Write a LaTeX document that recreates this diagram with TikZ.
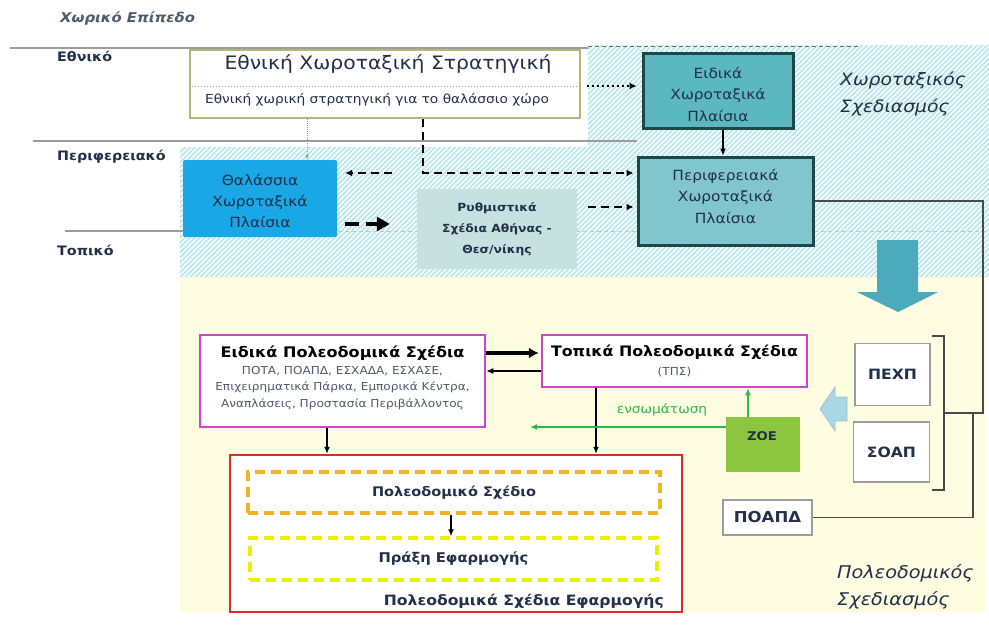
\documentclass[tikz,border=0pt]{standalone}
\usepackage{fontspec}
\setmainfont{DejaVu Sans}[FakeStretch=1.1]
\usetikzlibrary{arrows.meta,calc}
\definecolor{hatchbg}{HTML}{A8E0E8}
\definecolor{cream}{HTML}{FFFDE1}
\definecolor{navy}{HTML}{22304A}
\definecolor{lvlgray}{HTML}{9C9C9C}
\definecolor{thalblue}{HTML}{1AA7E5}
\definecolor{eidfill}{HTML}{5BB8C1}
\definecolor{perfill}{HTML}{80C6CC}
\definecolor{darkteal}{HTML}{1F4649}
\definecolor{rythfill}{HTML}{C7E0E0}
\definecolor{olive}{HTML}{B3B77A}
\definecolor{magenta}{HTML}{D042D0}
\definecolor{redbox}{HTML}{E02A2A}
\definecolor{orangedash}{HTML}{F2B422}
\definecolor{yellowdash}{HTML}{EEEE00}
\definecolor{zoegreen}{HTML}{8CC63E}
\definecolor{arrgreen}{HTML}{2EB84B}
\definecolor{bigarrow}{HTML}{4BAABB}
\definecolor{smallarrow}{HTML}{A9D7E6}
\definecolor{bracketgray}{HTML}{4A4A4A}
\newcommand\fsz[2]{\fontsize{#1}{#2}\selectfont}
\tikzset{
  lvl/.style={draw=lvlgray, line width=1.2pt},
  lvllabel/.style={font=\fsz{13}{15}\bfseries, text=navy, anchor=west, inner sep=0pt},
  boxtxt/.style={font=\fsz{14}{21.5}, text=navy, align=center, inner sep=0pt},
  tealbox/.style={draw=darkteal, line width=3pt, inner sep=0pt},
  plainbox/.style={inner sep=0pt},
  magbox/.style={draw=magenta, line width=2.5pt, fill=white, inner sep=0pt},
  greybox/.style={draw=lvlgray, line width=1.2pt, fill=white, inner sep=0pt, font=\fsz{14.2}{16}\bfseries, text=navy},
  thickdash/.style={line width=2.5pt, dash pattern=on 8pt off 5pt, -{Latex[length=7pt,width=7pt]}},
  blk/.style={line width=1.3pt, -{Latex[length=7pt,width=6pt]}},
  bigtxt/.style={font=\fsz{17}{27}\itshape, text=navy, align=left, inner sep=0pt, anchor=west},
  hatchline/.style={draw=white!80!hatchbg, line width=2.3pt},
}
\begin{document}
\begin{tikzpicture}[x=1pt,y=-1pt]
\useasboundingbox (0,0) rectangle (989,625);
\fill[white] (0,0) rectangle (989,625);
% background regions
\path[fill=cream] (180,277) rectangle (985,612);
\path[fill=hatchbg] (588,45) -- (989,45) -- (989,277) -- (180,277) -- (180,147) -- (588,147) -- cycle;
\begin{scope}
\clip (588,45) -- (989,45) -- (989,277) -- (180,277) -- (180,147) -- (588,147) -- cycle;
\foreach \c in {315,320,...,1280} { \draw[hatchline] (\c-300,300) -- (\c,0); }
\end{scope}
% level lines
\draw[lvl] (10,48) -- (588,48);
\draw[draw=navy!70, line width=1pt, dash pattern=on 4pt off 3pt] (588,46) -- (860,46);
\draw[lvl] (33,141) -- (637,141);
\draw[lvl] (65,231) -- (183,231);
\draw[draw=lvlgray!60, line width=0.8pt, dash pattern=on 4pt off 3pt] (338,231) -- (989,231);
% labels
\node[font=\fsz{13.5}{15}\bfseries\itshape, text=navy!80, anchor=west, inner sep=0pt] (hdr) at (60,19) {Χωρικό Επίπεδο};
\node[lvllabel] (lnat) at (57,56) {Εθνικό};
\node[lvllabel] (lreg) at (57,157) {Περιφερειακό};
\node[lvllabel] (lloc) at (57,250) {Τοπικό};
\node[bigtxt] (xwr) at (840,94) {Χωροταξικός\\Σχεδιασμός};
\node[bigtxt, font=\fsz{17.5}{27}\itshape] (pol) at (837,587) {Πολεοδομικός\\Σχεδιασμός};
% top boxes
\node[draw=olive, line width=2.5pt, fill=white, minimum width=390pt, minimum height=68pt, inner sep=0pt] (ethn) at (385,84) {};
\node[font=\fsz{18.5}{20}, text=navy, inner sep=0pt] (ethnT) at (388,64) {Εθνική Χωροταξική Στρατηγική};
\draw[draw=navy!50, line width=1pt, dotted] ($(ethn.west)+(3,2)$) -- ($(ethn.east)+(-3,2)$);
\node[font=\fsz{12.5}{14}, text=navy, inner sep=0pt] (ethnS) at (377,100) {Εθνική χωρική στρατηγική για το θαλάσσιο χώρο};
\node[tealbox, fill=eidfill, minimum width=150pt, minimum height=75pt] (eidiko) at (718,90.5) {};
\node[boxtxt] (eidikoT) at (718,94) {Ειδικά\\Χωροταξικά\\Πλαίσια};
\node[tealbox, fill=perfill, minimum width=175pt, minimum height=88pt] (perif) at (725.5,201) {};
\node[boxtxt] (perifT) at (725.5,196) {Περιφερειακά\\Χωροταξικά\\Πλαίσια};
\node[plainbox, fill=thalblue, rounded corners=2pt, minimum width=154pt, minimum height=77pt] (thal) at (260,198.5) {};
\node[boxtxt, font=\fsz{14}{21}] (thalT) at (260,201) {Θαλάσσια\\Χωροταξικά\\Πλαίσια};
\node[plainbox, fill=rythfill, minimum width=160pt, minimum height=80pt] (rythm) at (497,229) {};
\node[boxtxt, font=\fsz{11.2}{21}\bfseries] (rythmT) at (497,229) {Ρυθμιστικά\\Σχέδια Αθήνας -\\Θεσ/νίκης};
% top connectors
\coordinate (td) at (0,86);
\draw[line width=2.5pt, dash pattern=on 2pt off 3pt, -{Latex[length=7pt,width=7pt]}, shorten <=6pt, shorten >=5pt] (ethn.east |- td) -- (eidiko.west |- td);
\coordinate (tc) at (723,0);
\draw[blk] (eidiko.south -| tc) -- (perif.north -| tc);
\coordinate (jn) at (423,173);
\draw[thickdash, shorten >=3pt] (ethn.south -| jn) -- (jn) -- (perif.west |- jn);
\coordinate (la) at (392,173);
\draw[thickdash, shorten >=8pt] (la) -- (thal.east |- la);
\coordinate (ta) at (0,224);
\draw[line width=3.5pt, dash pattern=on 14pt off 7pt, -{Triangle[length=13pt,width=14pt]}, shorten <=8pt, shorten >=27pt] (thal.east |- ta) -- (rythm.west |- ta);
\coordinate (tb) at (0,207);
\draw[thickdash, shorten <=11pt, shorten >=3pt] (rythm.east |- tb) -- (perif.west |- tb);
\coordinate (tx) at (307,0);
\draw[draw=lvlgray, line width=1pt, densely dotted, -{Latex[length=5pt,width=4pt]}] (ethn.south -| tx) -- (thal.north -| tx);
% big down arrow
\fill[bigarrow] (877,240) -- (918,240) -- (918,292) -- (938,292) -- (898,312) -- (857,292) -- (877,292) -- cycle;
% bottom boxes
\node[magbox, minimum width=285pt, minimum height=92pt] (eps) at (342.5,381) {};
\node[font=\fsz{14.6}{16}\bfseries, text=black, inner sep=0pt] (epsT) at (342.5,353) {Ειδικά Πολεοδομικά Σχέδια};
\node[font=\fsz{11}{16.5}, text=navy!80, align=center, inner sep=0pt] (epsS) at (342.5,388) {ΠΟΤΑ, ΠΟΑΠΔ, ΕΣΧΑΔΑ, ΕΣΧΑΣΕ,\\Επιχειρηματικά Πάρκα, Εμπορικά Κέντρα,\\Αναπλάσεις, Προστασία Περιβάλλοντος};
\node[magbox, minimum width=265pt, minimum height=52pt] (tps) at (674.5,361) {};
\node[font=\fsz{14.4}{16}\bfseries, text=black, inner sep=0pt] (tpsT) at (674.5,352) {Τοπικά Πολεοδομικά Σχέδια};
\node[font=\fsz{11}{12}, text=navy!80, inner sep=0pt] (tpsS) at (674.5,372) {(ΤΠΣ)};
\node[plainbox, fill=zoegreen, minimum width=74pt, minimum height=55pt] (zoe) at (763,444.5) {};
\node[font=\fsz{12}{14}\bfseries, text=navy, inner sep=0pt] (zoeT) at (762,436) {ΖΟΕ};
\node[greybox, minimum width=75pt, minimum height=62pt] (pexp) at (892.5,374.5) {ΠΕΧΠ};
\node[greybox, minimum width=76pt, minimum height=60pt] (soap) at (891.5,452) {ΣΟΑΠ};
\node[greybox, font=\fsz{15}{16}\bfseries, minimum width=89pt, minimum height=35pt] (poapd) at (767.5,517.5) {ΠΟΑΠΔ};
\node[draw=redbox, line width=2.5pt, fill=white, minimum width=452pt, minimum height=157pt, inner sep=0pt] (red) at (456,533.5) {};
\node[draw=orangedash, line width=3.5pt, dash pattern=on 10pt off 6pt, minimum width=412pt, minimum height=41pt, inner sep=0pt, font=\fsz{13.2}{15}\bfseries, text=navy] (orng) at (454,492.5) {Πολεοδομικό Σχέδιο};
\node[draw=yellowdash, line width=3.5pt, dash pattern=on 10pt off 6pt, minimum width=407pt, minimum height=42pt, inner sep=0pt, font=\fsz{13.4}{15}\bfseries, text=navy] (ylw) at (453.5,559) {Πράξη Εφαρμογής};
\node[font=\fsz{14.2}{16}\bfseries, text=navy, anchor=east, inner sep=0pt] (redT) at (664,601) {Πολεοδομικά Σχέδια Εφαρμογής};
% bottom connectors
\coordinate (te) at (0,353);
\draw[line width=3.5pt, -{Latex[length=10pt,width=11pt]}, shorten >=2pt] (eps.east |- te) -- (tps.west |- te);
\coordinate (tf) at (0,371);
\draw[blk] (tps.west |- tf) -- (eps.east |- tf);
\coordinate (tg) at (327,0);
\draw[blk] (eps.south -| tg) -- (red.north -| tg);
\coordinate (th) at (596,0);
\draw[blk] (tps.south -| th) -- (red.north -| th);
\coordinate (gend) at (530,427);
\draw[draw=arrgreen, line width=1.5pt, -{Latex[length=7pt,width=6pt]}] (zoe.west |- gend) -- (gend);
\node[font=\fsz{12.5}{14}, text=arrgreen, inner sep=0pt] (ensom) at (662,410) {ενσωμάτωση};
\coordinate (ti) at (748,0);
\draw[draw=arrgreen, line width=1.3pt, -{Latex[length=7pt,width=6pt]}] (zoe.north -| ti) -- (tps.south -| ti);
\coordinate (tj) at (451,0);
\draw[blk] (orng.south -| tj) -- (ylw.north -| tj);
% bracket and links on the right
\draw[draw=bracketgray, line width=1.2pt] (932,336) -- (944,336) -- (944,490) -- (932,490);
\coordinate (brk) at (944,413);
\coordinate (jr) at (983,413);
\coordinate (jp) at (973,413);
\draw[draw=bracketgray, line width=1.2pt] (perif.east) -| (jr) -- (brk);
\draw[draw=bracketgray, line width=1.2pt] (jp) |- (poapd.east);
% small left block arrow
\filldraw[fill=smallarrow, draw=smallarrow!70!gray, line width=0.6pt] (820,409) -- (835,387) -- (835,397) -- (847,397) -- (847,421) -- (835,421) -- (835,431) -- cycle;
\end{tikzpicture}
\end{document}
